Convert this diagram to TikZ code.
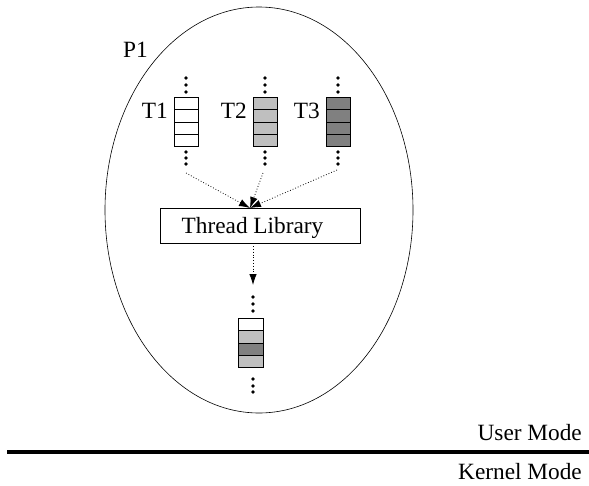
\documentclass[tikz,border=0pt]{standalone}
\usepackage{fontspec}
\setmainfont{Liberation Serif}
\usetikzlibrary{arrows.meta}
\definecolor{lightcell}{HTML}{BFBFBF}
\definecolor{darkcell}{HTML}{808080}
\begin{document}
\begin{tikzpicture}[x=1pt,y=-1pt,
  lbl/.style={font=\fontsize{23.3}{27}\selectfont, inner sep=0pt},
  cell/.style={draw, line width=0.9pt, minimum width=24pt, minimum height=12.25pt, inner sep=0pt, anchor=north},
  dotmark/.style={circle, fill=black, inner sep=0pt, minimum size=3.8pt},
  flow/.style={dotted, line width=0.8pt, -{Latex[length=11pt,width=7.5pt]}},
]
\useasboundingbox (0,0) rectangle (589,485);

% process boundary
\draw[line width=0.6pt] (259,210) ellipse [x radius=154, y radius=203];
\node[lbl, anchor=base west] (p1) at (123,57) {P1};

% user threads: label, stack of cells, dots above and below
\foreach \n/\x/\c in {1/186/white, 2/265/lightcell, 3/338/darkcell}{
  \foreach \k in {0,1,2,3}{
    \node[cell, fill=\c] (t\n c\k) at (\x,{97+12.25*\k}) {};
  }
  \node[lbl, anchor=base east] (t\n) at (\x-18,118) {T\n};
  \foreach \y in {78,85,92,152,158,164}{
    \node[dotmark] at (\x,\y) {};
  }
}
\coordinate (t1out) at (186,173);
\coordinate (t2out) at (263,173);
\coordinate (t3out) at (337,170);

% thread library
\node[draw, line width=0.6pt, minimum width=200pt, minimum height=35pt, inner sep=0pt] (lib) at (260,225.5) {};
\node[lbl, anchor=base] (libtext) at (252.5,233) {Thread Library};
\coordinate (libin) at (250,208);
\draw[flow] (t1out) -- (libin);
\draw[flow] (t2out) -- (libin);
\draw[flow] (t3out) -- (libin);

% multiplexed stack
\coordinate (mtop) at (253,285);
\draw[flow] (lib.south -| mtop) -- (mtop);
\foreach \k/\c in {0/white, 1/lightcell, 2/darkcell, 3/lightcell}{
  \node[cell, fill=\c, minimum width=25pt] (m\k) at (250.5,{318+12.25*\k}) {};
}
\foreach \y in {297,304,311,379,386,392}{
  \node[dotmark] at (253,\y) {};
}

% user / kernel boundary
\draw[line width=4pt] (7,451.5) -- (589,451.5);
\node[lbl, anchor=base east] (user) at (582,440) {User Mode};
\node[lbl, anchor=base east] (kernel) at (582,479) {Kernel Mode};
\end{tikzpicture}
\end{document}
